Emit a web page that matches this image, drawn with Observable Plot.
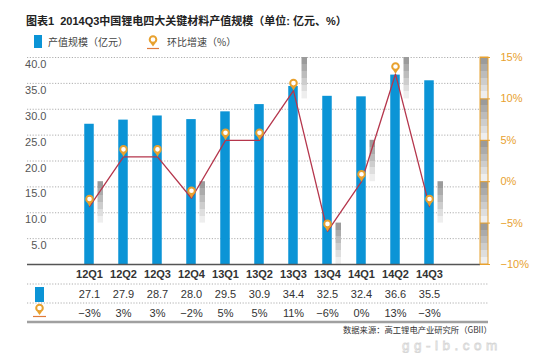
<!DOCTYPE html>
<html><head><meta charset="utf-8">
<script src="https://cdn.jsdelivr.net/npm/d3@7"></script>
<script src="https://cdn.jsdelivr.net/npm/@observablehq/plot@0.6"></script>
<style>
html,body{margin:0;padding:0;background:#fff;}
#wrap{position:relative;width:550px;height:353px;overflow:hidden;font-family:"Liberation Sans",Arial,"Noto Sans CJK SC",sans-serif;}
.abs{position:absolute;}
#title{left:26px;top:12px;font-size:11px;font-weight:bold;color:#222;font-family:"Liberation Sans","Noto Sans CJK SC",sans-serif;white-space:nowrap;}
.leg{font-size:10px;color:#444;font-family:"Noto Sans CJK SC",sans-serif;white-space:nowrap;}
#source{left:343px;top:324px;font-size:8.3px;line-height:11px;color:#333;font-family:"Noto Sans CJK SC",sans-serif;white-space:nowrap;}
</style></head>
<body><div id="wrap">
<div id="title" class="abs">图表1&nbsp; 2014Q3中国锂电四大关键材料产值规模（单位: 亿元、%）</div>
<svg class="abs" style="left:0;top:0" width="550" height="60">
  <rect x="34" y="35" width="8" height="13" fill="#0b94d6"/>
  <circle cx="153" cy="39.5" r="3.3" fill="#fff" stroke="#e8a12e" stroke-width="2"/>
  <path d="M150.5,43 L155.5,43 L153,46.5 Z" fill="#e8a12e"/>
  <line x1="147" x2="159" y1="48.5" y2="48.5" stroke="#e07a3a" stroke-width="1.2"/>
</svg>
<div class="abs leg" style="left:48px;top:34px">产值规模（亿元）</div>
<div class="abs leg" style="left:167px;top:34px">环比增速（%）</div>
<div id="main" class="abs" style="left:0;top:50px"></div>
<div id="table" class="abs" style="left:0;top:280px"></div>
<svg class="abs" style="left:0;top:280px" width="60" height="45">
  <rect x="35" y="7" width="9" height="15" fill="#0b94d6"/>
  <circle cx="39.5" cy="28" r="3.3" fill="#fff" stroke="#e8a12e" stroke-width="2"/>
  <path d="M37,31.5 L42,31.5 L39.5,35 Z" fill="#e8a12e"/>
  <line x1="33" x2="46" y1="36.5" y2="36.5" stroke="#e07a3a" stroke-width="1.2"/>
</svg>
<div id="source" class="abs">数据来源：高工锂电产业研究所（GBII）</div>
<svg class="abs" style="left:0;top:0;pointer-events:none" width="550" height="353">
  <text x="402" y="349.5" font-size="13.5" letter-spacing="4.5" font-family="Liberation Sans,Arial" fill="none" stroke="#d0d0d0" stroke-width="0.8" opacity="0.85">gg-lb.com</text>
</svg>
</div>
<script>
// ---- data ----
const quarters = ["12Q1","12Q2","12Q3","12Q4","13Q1","13Q2","13Q3","13Q4","14Q1","14Q2","14Q3"];
const output = [27.1, 27.9, 28.7, 28.0, 29.5, 30.9, 34.4, 32.5, 32.4, 36.6, 35.5];
const growth = [-3, 3, 3, -2, 5, 5, 11, -6, 0, 13, -3];
// decorative grey shade band (lower bound, %) beside some markers; null = none
const shadeLow = [-5, null, null, -5, null, null, 10, -10, 0, 10, -5];
const leftTicks = [5, 10, 15, 20, 25, 30, 35, 40];
const rightTicks = [-10, -5, 0, 5, 10, 15];

const data = quarters.map((q, i) => ({q, v: output[i], p: growth[i], s: shadeLow[i]}));
const yMax = 40, pMin = -10, pMax = 15;
const toY = p => (p - pMin) * yMax / (pMax - pMin);
const fmtPct = d => (d < 0 ? "\u2212" : "") + Math.abs(d) + "%";

const W = 550, ML = 27, MR = 62, COL = 8;
const xRange = [68.75, 448.25];
const blue = "#0b94d6", orange = "#e8a12e", lineCol = "#b5364c";
const pinTail = {draw(ctx, size) { ctx.moveTo(0, 0); ctx.lineTo(-2.6, -4.5); ctx.lineTo(2.6, -4.5); ctx.closePath(); }};
const frameW = W - ML - MR;

const main = Plot.plot({
  width: W, height: 235, marginTop: 7, marginBottom: 21, marginLeft: ML, marginRight: MR,
  style: {fontFamily: "Liberation Sans, Arial, sans-serif", background: "transparent"},
  x: {type: "band", domain: quarters, range: xRange, padding: 0, axis: null},
  y: {domain: [0, yMax], axis: null},
  marks: [
    Plot.ruleY(leftTicks, {stroke: "#9a9a9a", strokeDasharray: "1.2,1.6", strokeWidth: 0.8, insetRight: COL}),
    Plot.barY(data, {x: "q", y: "v", fill: blue, insetLeft: 12.25, insetRight: 12.25}),
    Plot.barY(data.filter(d => d.s !== null), {x: "q", y1: d => toY(d.s), y2: d => toY(d.s + 5), fill: "url(#shade)", insetLeft: 25.5, insetRight: 3}),
    Plot.barY(rightTicks.slice(0, -1), {y1: d => toY(d), y2: d => toY(d + 5), fill: "url(#shade)", insetLeft: frameW - COL}),
    Plot.ruleY([0], {stroke: "#555", strokeWidth: 1.5, insetRight: COL}),
    Plot.barY([0], {y1: toY(pMin), y2: toY(pMax), fill: "none", stroke: orange, strokeWidth: 1, insetLeft: frameW - COL}),
    Plot.ruleY(rightTicks.map(toY), {stroke: orange, strokeWidth: 1, insetLeft: frameW - COL, insetRight: -2}),
    Plot.line(data, {x: "q", y: d => toY(d.p), stroke: lineCol, strokeWidth: 1.3}),
    Plot.dot(data, {x: "q", y: d => toY(d.p), symbol: pinTail, r: 3, fill: orange, stroke: "none"}),
    Plot.dot(data, {x: "q", y: d => toY(d.p), r: 3.3, dy: -7.5, fill: "#fff", stroke: orange, strokeWidth: 2}),
    Plot.text(leftTicks, {y: d => d, text: d => d.toFixed(1), frameAnchor: "left", dx: 19, dy: 7, textAnchor: "end", fill: "#555", fontSize: 11}),
    Plot.text(rightTicks, {y: d => toY(d), text: fmtPct, frameAnchor: "right", dx: 12, textAnchor: "start", fill: orange, fontSize: 11}),
    Plot.text(quarters, {x: d => d, text: d => d, frameAnchor: "bottom", dy: 13, fontWeight: "bold", fill: "#333", fontSize: 11})
  ]
});
const defs = document.createElementNS("http://www.w3.org/2000/svg", "defs");
const steps = ["#9b9b9b", "#ababab", "#bcbcbc", "#cdcdcd", "#dedede", "#eeeeee"];
let stops = "";
steps.forEach((c, i) => {
  stops += `<stop offset="${i / steps.length}" stop-color="${c}"/><stop offset="${(i + 1) / steps.length}" stop-color="${c}"/>`;
});
defs.innerHTML = `<linearGradient id="shade" x1="0" y1="0" x2="0" y2="1">${stops}</linearGradient>`;
main.insertBefore(defs, main.firstChild);
document.getElementById("main").appendChild(main);

const table = Plot.plot({
  width: W, height: 45, marginTop: 0, marginBottom: 0, marginLeft: ML, marginRight: MR,
  style: {fontFamily: "Liberation Sans, Arial, sans-serif", background: "transparent"},
  x: {type: "band", domain: quarters, range: xRange, padding: 0, axis: null},
  y: {domain: [0, 2], range: [3.5, 41.5], axis: null},
  marks: [
    Plot.ruleY([0, 1], {stroke: "#9a9a9a", strokeDasharray: "1.2,1.6", strokeWidth: 0.8}),
    Plot.ruleY([2], {stroke: "#a0a0a0", strokeWidth: 2.5}),
    Plot.text(data, {x: "q", y: () => 0.5, text: d => d.v.toFixed(1), fill: "#333", fontSize: 11, dy: 1}),
    Plot.text(data, {x: "q", y: () => 1.5, text: d => fmtPct(d.p), fill: "#333", fontSize: 11, dy: 1})
  ]
});
document.getElementById("table").appendChild(table);
</script>
</body></html>
